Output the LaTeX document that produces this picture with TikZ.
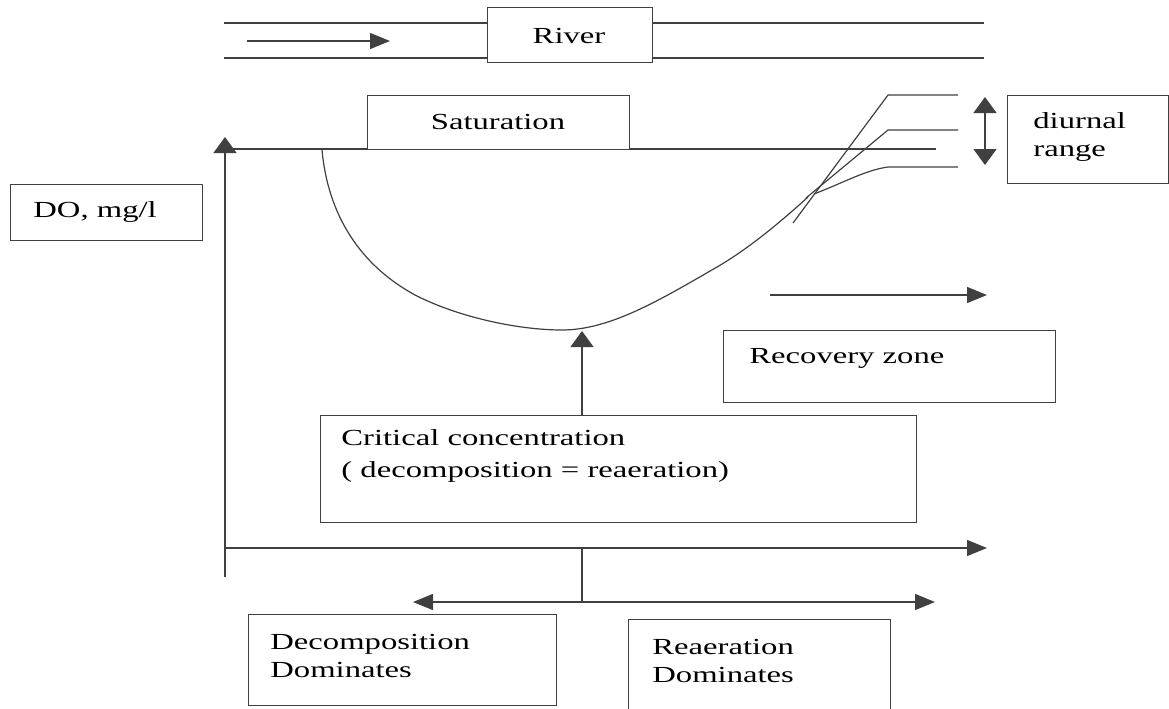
\documentclass[tikz,border=0pt]{standalone}
\usepackage{fontspec}
\setmainfont{Liberation Serif}[FakeStretch=1.42]
\usetikzlibrary{arrows.meta}
\begin{document}
\begin{tikzpicture}[x=0.5pt,y=-0.5pt,
  ln/.style={draw=black!75,line width=0.7pt},
  box/.style={ln,fill=white,rectangle,inner sep=0pt,anchor=north west},
  txt/.style={anchor=west,inner sep=0pt,font=\fontsize{11.5}{14}\selectfont,align=left},
  harr/.style={ln,-{Triangle[length=10pt,width=8pt]}},
  varr/.style={ln,-{Triangle[length=8pt,width=11.5pt]}},
  dvarr/.style={ln,{Triangle[length=8pt,width=11.5pt]}-{Triangle[length=8pt,width=11.5pt]}}]
\useasboundingbox (0,0) rectangle (1169,708);

% river
\coordinate (rtl) at (224,23); \coordinate (rtr) at (984,23);
\coordinate (rbl) at (224,58); \coordinate (rbr) at (984,58);
\draw[ln] (rtl) -- (rtr);
\draw[ln] (rbl) -- (rbr);
\node[box,minimum width=82.5pt,minimum height=27.5pt] (riverbox) at (487,7) {};
\node[txt,anchor=center] (river) at (569,36) {River};
\coordinate (fa) at (247,41); \coordinate (fb) at (390,41);
\draw[harr] (fa) -- (fb);

% saturation line and box
\coordinate (sl) at (225,149); \coordinate (sr) at (936,149);
\draw[ln] (sl) -- (sr);
\node[box,minimum width=131pt,minimum height=27pt] (satbox) at (367,95) {};
\node[txt,anchor=center] (sat) at (498,122) {Saturation};

% axes
\coordinate (o) at (225,548);
\coordinate (ybot) at (225,577);
\coordinate (ytop) at (225,137);
\coordinate (xend) at (987,548);
\draw[varr] (ybot) -- (ytop);
\draw[harr] (o) -- (xend);

% DO box
\node[box,minimum width=96pt,minimum height=28pt] (dobox) at (10,184) {};
\node[txt] (do) at (33,212) {DO, mg/l};

% sag curve
\draw[ln,line width=0.6pt] (322,150) .. controls (328,215) and (360,265) .. (415,295)
  .. controls (460,318) and (520,330) .. (562,330)
  .. controls (610,330) and (660,300) .. (717,267)
  .. controls (750,248) and (785,218) .. (808,197);
\coordinate (cmin) at (582,331);

% diurnal lines
\draw[ln,line width=0.6pt] (793,223) -- (888,95) -- (958,95);
\draw[ln,line width=0.6pt] (806,198) -- (888,130) -- (958,130);
\draw[ln,line width=0.6pt] (814,194) .. controls (845,182) and (866,170) .. (888,167) -- (958,167);
\coordinate (da) at (985,165); \coordinate (db) at (985,97);
\draw[dvarr] (da) -- (db);
\node[box,minimum width=80.5pt,minimum height=44pt] (dbox) at (1007,95) {};
\node[txt,anchor=north west] (diur) at (1033,112) {diurnal\\range};

% recovery
\coordinate (ra) at (770,295); \coordinate (rb) at (987,295);
\draw[harr] (ra) -- (rb);
\node[box,minimum width=166pt,minimum height=36pt] (recbox) at (723,330) {};
\node[txt] (rec) at (749,358) {Recovery zone};

% critical
\node[box,minimum width=298pt,minimum height=53.5pt] (critbox) at (320,415) {};
\node[txt,anchor=north west,font=\fontsize{11.5}{16}\selectfont] (crit) at (341,429) {Critical concentration\\( decomposition = reaeration)};
\coordinate (ct) at (582,415);
\draw[varr] (ct) -- (cmin);

% bottom
\coordinate (bt) at (582,548); \coordinate (bb) at (582,602);
\draw[ln] (bt) -- (bb);
\coordinate (bl) at (413,602); \coordinate (br) at (935,602);
\draw[harr] (bb) -- (bl);
\draw[harr] (bb) -- (br);

\node[box,minimum width=154pt,minimum height=45.5pt] (decbox) at (248,614) {};
\node[txt,anchor=north west] (dec) at (270,634) {Decomposition\\Dominates};
\node[box,minimum width=131pt,minimum height=46pt] (reabox) at (628,619) {};
\node[txt,anchor=north west] (rea) at (652,639) {Reaeration\\Dominates};
\end{tikzpicture}
\end{document}
